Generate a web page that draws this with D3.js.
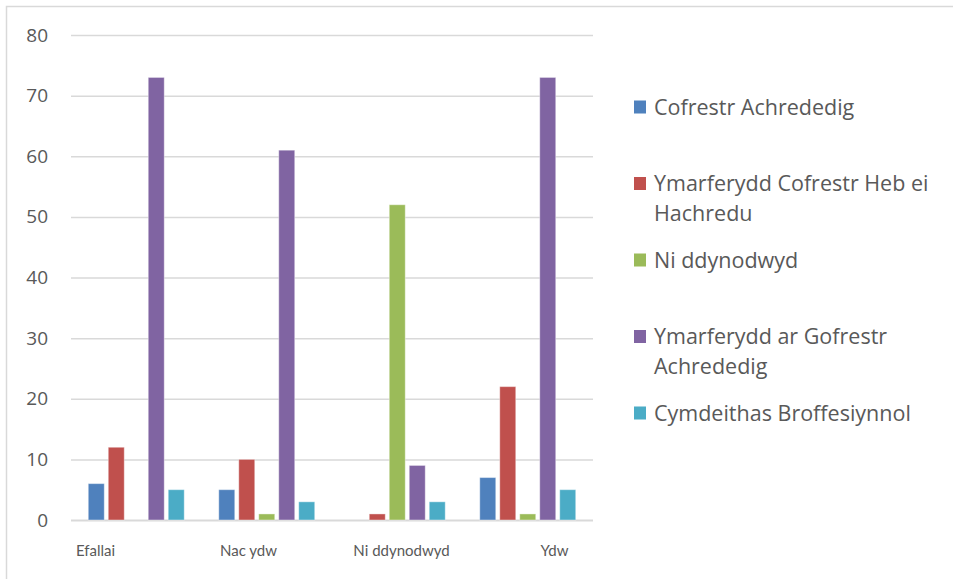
<!DOCTYPE html>
<html>
<head>
<meta charset="utf-8">
<script src="https://cdn.jsdelivr.net/npm/d3@7"></script>
<style>
  html, body { margin: 0; padding: 0; background: #fff; }
  svg { display: block; }
  text { font-family: Lato, "Noto Sans", sans-serif; fill: #595959; }
</style>
</head>
<body>
<svg id="chart" width="953" height="579"></svg>
<script>
const categories = ["Efallai", "Nac ydw", "Ni ddynodwyd", "Ydw"];
const seriesNames = [
  "Cofrestr Achrededig",
  "Ymarferydd Cofrestr Heb ei Hachredu",
  "Ni ddynodwyd",
  "Ymarferydd ar Gofrestr Achrededig",
  "Cymdeithas Broffesiynnol"
];
const seriesColors = ["#4F81BD", "#C0504D", "#9BBB59", "#8064A2", "#4BACC6"];
const cofrestrAchrededig = [6, 5, 0, 7];
const hebEiHachredu = [12, 10, 1, 22];
const niDdynodwyd = [0, 1, 52, 1];
const arGofrestr = [73, 61, 9, 73];
const cymdeithas = [5, 3, 3, 5];
const yTicks = [0, 10, 20, 30, 40, 50, 60, 70, 80];

const seriesValues = [cofrestrAchrededig, hebEiHachredu, niDdynodwyd, arGofrestr, cymdeithas];

const svg = d3.select("#chart");

// outer frame
svg.append("rect")
  .attr("x", 6.5).attr("y", 6.5)
  .attr("width", 1000).attr("height", 1000)
  .attr("fill", "none").attr("stroke", "#d9d9d9").attr("stroke-width", 1.5);

const plot = { left: 71, right: 593, top: 35, bottom: 520 };

const y = d3.scaleLinear().domain([0, 80]).range([plot.bottom, plot.top]);
const x0 = d3.scaleBand().domain(categories).range([plot.left, plot.right])
  .paddingInner(0.234).paddingOuter(0.117);
const x1 = d3.scaleBand().domain(d3.range(seriesNames.length)).range([0, x0.bandwidth()])
  .paddingInner(0.2).paddingOuter(0.1);
const xLabel = d3.scalePoint().domain(categories).range([95, 554]);

// gridlines
svg.append("g").selectAll("line").data(yTicks).join("line")
  .attr("x1", plot.left).attr("x2", plot.right)
  .attr("y1", d => y(d) + 0.5).attr("y2", d => y(d) + 0.5)
  .attr("stroke", "#d9d9d9").attr("stroke-width", d => d === 0 ? 2 : 1.5);

// y axis labels
const yAxis = d3.axisLeft(y).tickValues(yTicks).tickSize(0).tickPadding(0);
const gy = svg.append("g").attr("transform", `translate(${48},0)`).call(yAxis);
gy.select(".domain").remove();
gy.selectAll("text").style("font-size", "19px").attr("fill", "#595959")
  .style("font-family", "'Open Sans', Lato, sans-serif");

// bars
const data = categories.map((c, i) => ({ cat: c, vals: seriesValues.map((s, j) => ({ j, v: s[i] })) }));
const groups = svg.append("g").selectAll("g").data(data).join("g")
  .attr("transform", d => `translate(${x0(d.cat)},0)`);
groups.selectAll("rect").data(d => d.vals.filter(e => e.v > 0)).join("rect")
  .attr("x", d => x1(d.j))
  .attr("width", x1.bandwidth())
  .attr("y", d => y(d.v))
  .attr("height", d => y(0) - y(d.v))
  .attr("fill", d => seriesColors[d.j])
  .attr("stroke", "#ffffff").attr("stroke-opacity", 0.4).attr("stroke-width", 1);

// x labels
const xAxis = d3.axisBottom(xLabel).tickSize(0).tickPadding(0);
const gx = svg.append("g").attr("transform", `translate(0,${545})`).call(xAxis);
gx.select(".domain").remove();
gx.selectAll("text").style("font-size", "15px").attr("fill", "#595959")
  .style("font-family", "Lato, 'Noto Sans', sans-serif");

// legend
const legendY = d3.scalePoint().domain(d3.range(seriesNames.length)).range([107, 413]);
const legend = svg.append("g");
const maxW = 290;
seriesNames.forEach((name, i) => {
  const g = legend.append("g").attr("transform", `translate(0,${legendY(i)})`);
  g.append("rect").attr("x", 634).attr("y", -6.5).attr("width", 12).attr("height", 13)
    .attr("fill", seriesColors[i]);
  const t = g.append("text").attr("x", 654).attr("y", 0)
    .style("font-size", "21.5px").style("font-family", "'Open Sans', Lato, sans-serif");
  const words = name.split(" ");
  let line = [];
  let tspan = t.append("tspan").attr("x", 654).attr("dy", "0.35em");
  words.forEach(w => {
    line.push(w);
    tspan.text(line.join(" "));
    if (tspan.node().getComputedTextLength() > maxW && line.length > 1) {
      line.pop();
      tspan.text(line.join(" "));
      line = [w];
      tspan = t.append("tspan").attr("x", 654).attr("dy", "30px").text(w);
    }
  });
});
</script>
</body>
</html>
